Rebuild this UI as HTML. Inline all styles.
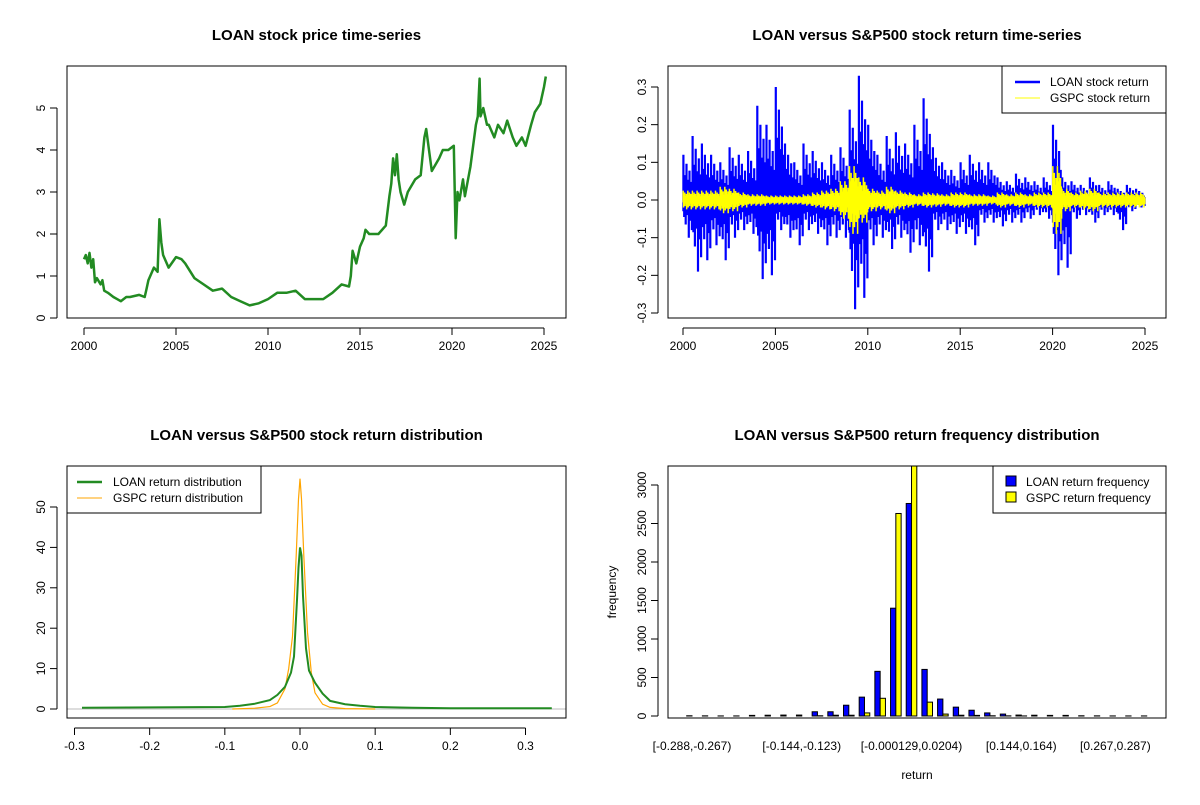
<!DOCTYPE html>
<html><head><meta charset="utf-8"><style>
body{margin:0;background:#fff;font-family:"Liberation Sans",Arial,sans-serif}
svg text{font-family:"Liberation Sans",Arial,sans-serif}
</style></head><body>
<svg id="s" width="1200" height="800" xmlns="http://www.w3.org/2000/svg"></svg>
<script>
// ---------- data ----------
const priceYears=[2000,2000.1,2000.2,2000.3,2000.4,2000.5,2000.6,2000.7,2000.9,2001,2001.1,2001.3,2001.6,2001.8,2002,2002.3,2002.5,2003,2003.3,2003.4,2003.5,2003.8,2004,2004.1,2004.2,2004.3,2004.6,2005,2005.3,2005.5,2006,2006.5,2007,2007.5,2008,2008.5,2009,2009.5,2010,2010.5,2011,2011.5,2012,2012.5,2013,2013.5,2014,2014.4,2014.5,2014.6,2014.8,2015,2015.2,2015.3,2015.5,2016,2016.4,2016.6,2016.7,2016.8,2016.9,2017,2017.1,2017.2,2017.4,2017.6,2018,2018.3,2018.5,2018.6,2018.9,2019.3,2019.5,2019.8,2020.1,2020.2,2020.3,2020.4,2020.6,2020.7,2021,2021.3,2021.4,2021.5,2021.55,2021.7,2021.9,2022,2022.3,2022.5,2022.8,2023,2023.3,2023.5,2023.8,2024,2024.3,2024.5,2024.8,2025,2025.1];
const priceValues=[1.4,1.5,1.3,1.55,1.2,1.4,0.85,0.95,0.8,0.9,0.65,0.6,0.5,0.45,0.4,0.5,0.5,0.55,0.5,0.7,0.9,1.2,1.1,2.35,1.8,1.5,1.2,1.45,1.4,1.3,0.95,0.8,0.65,0.7,0.5,0.4,0.3,0.35,0.45,0.6,0.6,0.65,0.45,0.45,0.45,0.6,0.8,0.75,1.0,1.6,1.3,1.7,1.9,2.1,2.0,2.0,2.2,2.9,3.2,3.8,3.4,3.9,3.3,3.0,2.7,3.0,3.3,3.4,4.3,4.5,3.5,3.8,4.0,4.0,4.1,1.9,3.0,2.8,3.3,2.9,3.6,4.6,4.8,5.7,4.8,5.0,4.6,4.6,4.3,4.6,4.4,4.7,4.3,4.1,4.3,4.1,4.6,4.9,5.1,5.5,5.75];
const xTickYears=[2000,2005,2010,2015,2020,2025];
const priceTicks=[0,1,2,3,4,5];
const retStart=2000, retStep=0.5;
const loanMax=[0.12,0.17,0.15,0.12,0.1,0.14,0.12,0.13,0.25,0.2,0.3,0.15,0.1,0.15,0.13,0.1,0.12,0.14,0.24,0.33,0.2,0.12,0.17,0.18,0.15,0.2,0.27,0.14,0.1,0.08,0.1,0.12,0.1,0.1,0.06,0.05,0.07,0.06,0.05,0.06,0.2,0.06,0.05,0.04,0.06,0.04,0.05,0.03,0.04,0.03];
const loanMin=[-0.1,-0.19,-0.16,-0.12,-0.16,-0.1,-0.08,-0.09,-0.21,-0.2,-0.08,-0.1,-0.12,-0.08,-0.09,-0.12,-0.1,-0.1,-0.29,-0.26,-0.12,-0.1,-0.13,-0.1,-0.14,-0.12,-0.19,-0.08,-0.08,-0.09,-0.09,-0.12,-0.06,-0.06,-0.07,-0.06,-0.06,-0.05,-0.04,-0.05,-0.2,-0.18,-0.05,-0.04,-0.06,-0.04,-0.04,-0.08,-0.03,-0.02];
const gspcAmp=[0.025,0.025,0.025,0.025,0.035,0.03,0.02,0.015,0.015,0.012,0.012,0.012,0.012,0.015,0.02,0.025,0.03,0.05,0.09,0.06,0.03,0.025,0.035,0.025,0.02,0.015,0.02,0.018,0.015,0.02,0.02,0.015,0.015,0.012,0.02,0.015,0.02,0.015,0.02,0.02,0.09,0.03,0.02,0.025,0.03,0.02,0.02,0.02,0.02,0.02];
const retTicks=[-0.3,-0.2,-0.1,0,0.1,0.2,0.3];
const loanDensX=[-0.29,-0.1,-0.08,-0.06,-0.04,-0.03,-0.02,-0.012,-0.008,-0.004,-0.002,0,0.002,0.004,0.008,0.012,0.02,0.03,0.04,0.06,0.08,0.1,0.15,0.2,0.335];
const loanDensY=[0.3,0.5,0.8,1.3,2.2,3.5,5.5,9,13,27,35,40,38,28,15,9.5,6.5,3.8,2,1.2,0.8,0.5,0.3,0.2,0.2];
const gspcDensX=[-0.09,-0.06,-0.04,-0.03,-0.02,-0.015,-0.01,-0.005,-0.002,0,0.002,0.005,0.01,0.015,0.02,0.03,0.04,0.06,0.1];
const gspcDensY=[0,0.2,0.6,1.5,5,10,18,38,52,57,52,38,19,9,4,1.2,0.4,0.1,0];
const densXTicks=[-0.3,-0.2,-0.1,0,0.1,0.2,0.3];
const densYTicks=[0,10,20,30,40,50];
const histLoan=[3,2,1,1,8,10,12,12,55,55,140,245,580,1400,2760,605,220,115,75,40,25,12,10,8,8,3,2,1,1,1];
const histGspc=[0,0,0,0,0,0,0,0,3,10,10,40,230,2630,3250,180,25,10,8,3,2,1,0,0,0,0,0,0,0,0];
const histLabels=["[-0.288,-0.267)","[-0.144,-0.123)","[-0.000129,0.0204)","[0.144,0.164)","[0.267,0.287)"];
const histLabelIdx=[0,7,14,21,27];
const histYTicks=[0,500,1000,1500,2000,2500,3000];
// rendering texture (relative spike heights within a bucket)
const texture=[1,0.35,0.55,0.25,0.8,0.3,0.45,0.2,0.65,0.3,0.4,0.25];

// ---------- helpers ----------
const S=document.getElementById('s');const NS='http://www.w3.org/2000/svg';
function el(t,a,p){const e=document.createElementNS(NS,t);for(const k in a)e.setAttribute(k,a[k]);(p||S).appendChild(e);return e;}
function txt(x,y,s,a,p){const e=el('text',Object.assign({x:x,y:y,'font-size':12,fill:'#000','text-anchor':'middle'},a||{}),p);e.textContent=s;return e;}
function panel(name,L,R,T,B,title){const g=el('g',{});
 const t=txt((L+R)/2,40+(T-66),title,{'font-size':15,'font-weight':'bold'},g);return g;}
function box(g,L,R,T,B){const b=el('rect',{x:L,y:T,width:R-L,height:B-T,fill:'none',stroke:'#000','stroke-width':1},g);}
function xAxis(g,ticks,fx,B,fmt){const a=el('g',{},g);
 el('line',{x1:fx(ticks[0]),x2:fx(ticks[ticks.length-1]),y1:B+10,y2:B+10,stroke:'#000'},a);
 ticks.forEach(v=>{const x=fx(v);el('line',{x1:x,x2:x,y1:B+10,y2:B+17,stroke:'#000'},a);const t=txt(x,B+32,fmt(v),{},a);});}
function yAxis(g,ticks,fy,L,fmt){const a=el('g',{},g);
 el('line',{x1:L-10,x2:L-10,y1:fy(ticks[0]),y2:fy(ticks[ticks.length-1]),stroke:'#000'},a);
 ticks.forEach(v=>{const y=fy(v);el('line',{x1:L-17,x2:L-10,y1:y,y2:y,stroke:'#000'},a);const t=txt(L-22,y,fmt(v),{transform:`rotate(-90 ${L-22} ${y})`},a);});}
function path(g,xs,ys,fx,fy,attrs,name){const d=xs.map((v,i)=>(i?'L':'M')+fx(v).toFixed(1)+','+fy(ys[i]).toFixed(1)).join('');const p=el('path',Object.assign({d:d,fill:'none'},attrs),g);return p;}

// ---------- panel 1: price ----------
{const L=67,R=566,T=66,B=318;const g=panel('price-panel',L,R,T,B,'LOAN stock price time-series');
 const fx=v=>84+(v-2000)*(544-84)/25, fy=v=>318-v*42;
 path(g,priceYears,priceValues,fx,fy,{stroke:'#228B22','stroke-width':2.5,'stroke-linejoin':'round'},'loan-price-line');
 box(g,L,R,T,B);xAxis(g,xTickYears,fx,B,v=>v);yAxis(g,priceTicks,fy,L,v=>v);}

// ---------- panel 2: returns ----------
{const L=668,R=1166,T=66,B=318;const g=panel('return-panel',L,R,T,B,'LOAN versus S&P500 stock return time-series');
 const fx=v=>683+(v-2000)*(1145-683)/25, fy=v=>200-v*376.7;
 const yrs=loanMax.map((_,i)=>retStart+i*retStep);
 const n=texture.length;
 let dl='';
 yrs.forEach((y,i)=>{for(let k=0;k<n;k++){const xx=fx(y+retStep*(k+0.5)/n).toFixed(1);
   const up=loanMax[i]*texture[k], dn=loanMin[i]*texture[(k+5)%n];
   dl+='M'+xx+','+fy(up).toFixed(1)+'L'+xx+','+fy(dn).toFixed(1);}});
 const lp=el('path',{d:dl,stroke:'#0000FF','stroke-width':2.2,fill:'none'},g);
 let dg='';
 yrs.forEach((y,i)=>{for(let k=0;k<n*2;k++){const xx=fx(y+retStep*(k+0.5)/(2*n)).toFixed(1);
   const up=gspcAmp[i]*texture[k%n], dn=-gspcAmp[i]*texture[(k+3)%n];
   dg+='M'+xx+','+fy(up).toFixed(1)+'L'+xx+','+fy(dn).toFixed(1);}});
 const gp=el('path',{d:dg,stroke:'#FFFF00','stroke-width':1.5,fill:'none'},g);
 box(g,L,R,T,B);xAxis(g,xTickYears,fx,B,v=>v);yAxis(g,retTicks,fy,L,v=>v==0?'0.0':v.toFixed(1));
 const lg=el('g',{},g);
 el('rect',{x:1002,y:66,width:164,height:47,fill:'#fff',stroke:'#000'},lg);
 el('line',{x1:1015,x2:1040,y1:82,y2:82,stroke:'#0000FF','stroke-width':2.5},lg);txt(1050,86,'LOAN stock return',{'text-anchor':'start'},lg);
 el('line',{x1:1015,x2:1040,y1:98,y2:98,stroke:'#FFFF00','stroke-width':1},lg);txt(1050,102,'GSPC stock return',{'text-anchor':'start'},lg);}

// ---------- panel 3: density ----------
{const L=67,R=566,T=466,B=718;const g=panel('density-panel',L,R,T,B,'LOAN versus S&P500 stock return distribution');
 const fx=v=>300+v*751.7, fy=v=>709-v*4.04;
 el('line',{x1:L,x2:R,y1:fy(0),y2:fy(0),stroke:'#bbb'},g);
 path(g,gspcDensX,gspcDensY,fx,fy,{stroke:'#FFA500','stroke-width':1.2},'gspc-density-line');
 path(g,loanDensX,loanDensY,fx,fy,{stroke:'#228B22','stroke-width':2},'loan-density-line');
 box(g,L,R,T,B);xAxis(g,densXTicks,fx,B,v=>v==0?'0.0':v.toFixed(1));yAxis(g,densYTicks,fy,L,v=>v);
 const lg=el('g',{},g);
 el('rect',{x:67,y:466,width:194,height:47,fill:'#fff',stroke:'#000'},lg);
 el('line',{x1:77,x2:102,y1:482,y2:482,stroke:'#228B22','stroke-width':2.5},lg);txt(113,486,'LOAN return distribution',{'text-anchor':'start'},lg);
 el('line',{x1:77,x2:102,y1:498,y2:498,stroke:'#FFA500','stroke-width':1},lg);txt(113,502,'GSPC return distribution',{'text-anchor':'start'},lg);}

// ---------- panel 4: histogram ----------
{const L=668,R=1166,T=466,B=718;const g=panel('histogram-panel',L,R,T,B,'LOAN versus S&P500 return frequency distribution');
 const pitch=15.68, c0=692, bw=5.3;const gx=i=>c0+i*pitch; const fy=v=>716-v*0.077;
 const clip=el('clipPath',{id:'hc'},g);el('rect',{x:L,y:T,width:R-L,height:B-T},clip);
 const bars=el('g',{'clip-path':'url(#hc)'},g);
 histLoan.forEach((v,i)=>{const r=el('rect',{x:gx(i)-bw,y:fy(v),width:bw,height:fy(0)-fy(v),fill:'#0000FF',stroke:'#000','stroke-width':1},bars);
  });
 histGspc.forEach((v,i)=>{const r=el('rect',{x:gx(i),y:fy(v),width:bw,height:fy(0)-fy(v),fill:'#FFFF00',stroke:'#000','stroke-width':1},bars);
  });
 box(g,L,R,T,B);
 const xa=el('g',{},g);
 histLabels.forEach((s,k)=>{const t=txt(gx(histLabelIdx[k]),750,s,{},xa);});
 const ya=el('g',{},g);
 el('line',{x1:L-10,x2:L-10,y1:fy(0),y2:fy(3000),stroke:'#000'},ya);
 histYTicks.forEach(v=>{const y=fy(v);el('line',{x1:L-17,x2:L-10,y1:y,y2:y,stroke:'#000'},ya);const t=txt(L-22,y,v,{transform:`rotate(-90 ${L-22} ${y})`},ya);});
 const xt=txt(917,779,'return',{},g);
 const yt=txt(616,592,'frequency',{transform:'rotate(-90 616 592)'},g);
 const lg=el('g',{},g);
 el('rect',{x:993,y:466,width:173,height:47,fill:'#fff',stroke:'#000'},lg);
 el('rect',{x:1006,y:476,width:10,height:10,fill:'#0000FF',stroke:'#000'},lg);txt(1026,486,'LOAN return frequency',{'text-anchor':'start'},lg);
 el('rect',{x:1006,y:492,width:10,height:10,fill:'#FFFF00',stroke:'#000'},lg);txt(1026,502,'GSPC return frequency',{'text-anchor':'start'},lg);}
</script>
</body></html>
